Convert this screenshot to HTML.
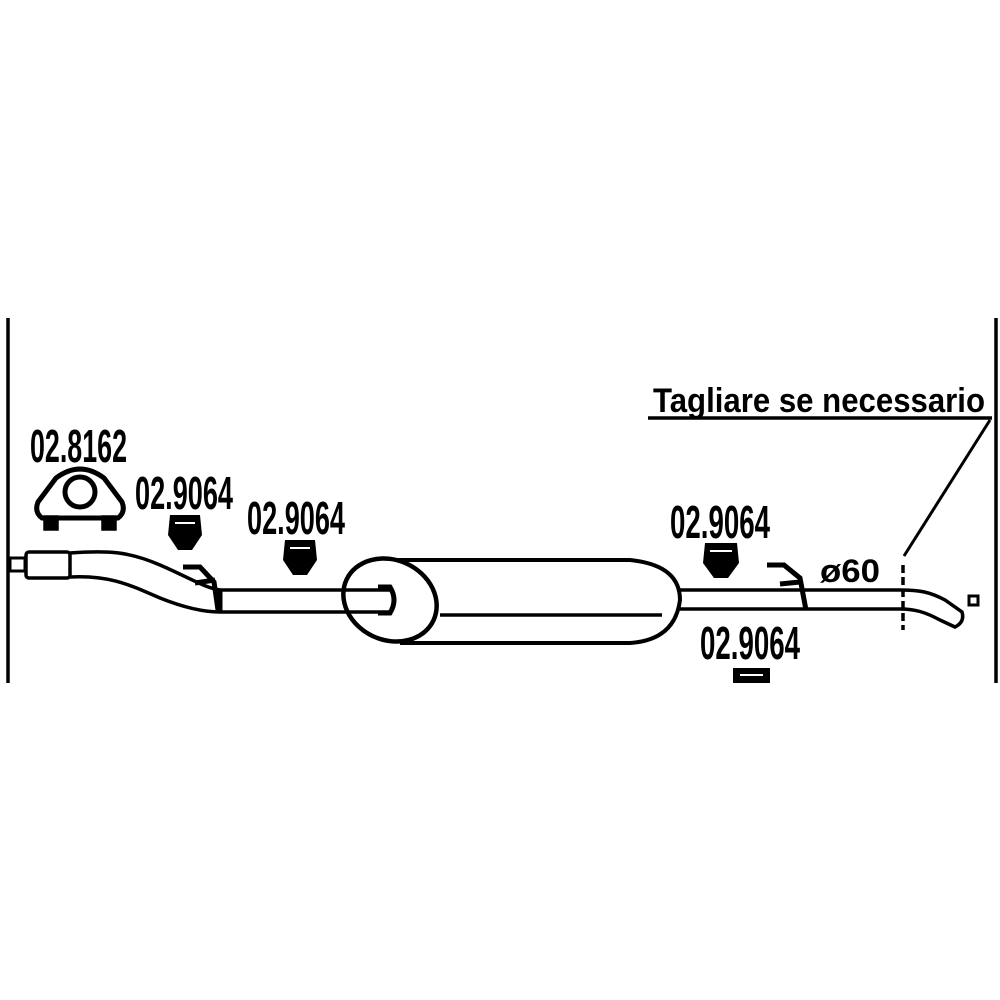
<!DOCTYPE html>
<html><head><meta charset="utf-8"><style>html,body{margin:0;padding:0;background:#fff}svg{display:block}</style></head><body>
<svg width="1000" height="1000" viewBox="0 0 1000 1000" xmlns="http://www.w3.org/2000/svg" font-family="'Liberation Sans Narrow','Liberation Sans',sans-serif" font-weight="bold">
<g stroke="#000" fill="none" stroke-width="3.5">
<line x1="8" y1="318" x2="8" y2="683"/>
<line x1="996" y1="318" x2="996" y2="683"/>
<line x1="648" y1="418" x2="992" y2="418"/>
<line x1="990" y1="420" x2="904" y2="556" stroke-width="3"/>
<line x1="903" y1="565" x2="903" y2="630" stroke-dasharray="8,4"/>
<rect x="10" y="558" width="15" height="13" stroke-width="3"/>
<rect x="26" y="552" width="44" height="26" rx="3"/>
<path d="M70 553 C110 550 130 552 160 565 C190 578 205 588 220 590"/>
<path d="M70 577 C110 575 130 585 160 598 C185 608 205 612 220 612"/>
<line x1="220" y1="590" x2="220" y2="612" stroke-width="5"/>
<line x1="220" y1="590" x2="390" y2="590"/>
<line x1="220" y1="612" x2="390" y2="612"/>
<path d="M378 587 L390 587 Q398 600 390 613 L378 613" stroke-width="5"/>
<ellipse cx="390" cy="600" rx="48" ry="40" transform="rotate(25 390 600)" stroke-width="4.5"/>
<path d="M395 560 L630 560 Q680 565 680 600 Q675 640 630 643 L400 643" stroke-width="4"/>
<line x1="440" y1="615" x2="662" y2="615"/>
<line x1="680" y1="590" x2="900" y2="590"/>
<line x1="680" y1="609" x2="900" y2="609"/>
<path d="M900 590 C920 590 930 592 945 600 L962 612 Q965 622 955 627 L940 620 C925 612 915 609 900 609"/>
<rect x="969" y="596" width="9" height="9" stroke-width="3"/>
<path d="M183 567 L200 567 L214 582 L218 610" stroke-width="5"/>
<path d="M195 583 L215 580" stroke-width="5"/>
<path d="M767 565 L784 565 L800 578 L806 610" stroke-width="5"/>
<path d="M780 584 L800 582" stroke-width="5"/>
<path d="M42 518 Q34 512 38 502 L56 478 Q80 460 104 478 L122 502 Q126 512 118 518 Z" stroke-width="5"/>
<circle cx="80" cy="492" r="15" stroke-width="5"/>
<rect x="45" y="517" width="12" height="12" fill="#000"/>
<rect x="103" y="517" width="12" height="12" fill="#000"/>
</g>
<g fill="#000">
<path d="M170 515 L200 515 L202 535 L192 550 L178 550 L168 535 Z"/>
<path d="M285 540 L315 540 L317 560 L307 575 L293 575 L283 560 Z"/>
<path d="M705 543 L737 543 L739 563 L728 578 L714 578 L703 563 Z"/>
<path d="M733 668 L770 668 L770 683 L733 683 Z"/>
</g>
<g stroke="#fff" stroke-width="2">
<line x1="175" y1="523" x2="195" y2="523"/>
<line x1="290" y1="548" x2="310" y2="548"/>
<line x1="710" y1="551" x2="732" y2="551"/>
<line x1="740" y1="675" x2="763" y2="675"/>
</g>
<g font-size="46" fill="#000">
<text x="30" y="462" textLength="97" lengthAdjust="spacingAndGlyphs">02.8162</text>
<text x="135" y="509" textLength="98" lengthAdjust="spacingAndGlyphs">02.9064</text>
<text x="247" y="534" textLength="98" lengthAdjust="spacingAndGlyphs">02.9064</text>
<text x="670" y="538" textLength="100" lengthAdjust="spacingAndGlyphs">02.9064</text>
<text x="700" y="659" textLength="100" lengthAdjust="spacingAndGlyphs">02.9064</text>
</g>
<text x="820" y="582" font-size="32" textLength="60" lengthAdjust="spacingAndGlyphs">ø60</text>
<text x="653" y="412" font-size="34" textLength="332" lengthAdjust="spacingAndGlyphs" font-family="'Liberation Sans',sans-serif">Tagliare se necessario</text>
</svg>
</body></html>
